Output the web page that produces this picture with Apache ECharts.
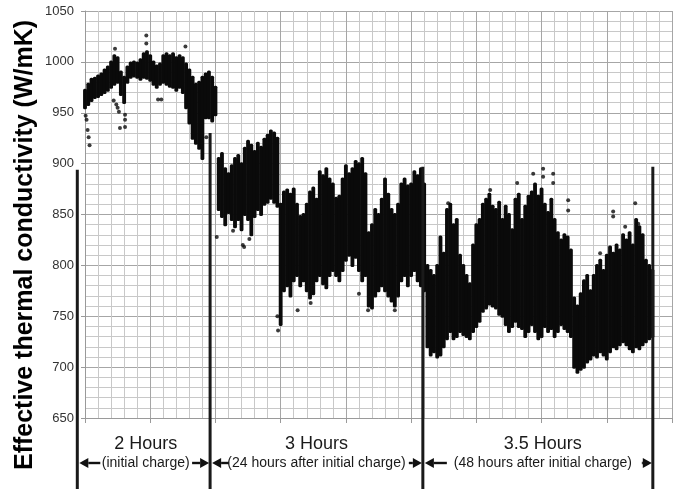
<!DOCTYPE html>
<html>
<head>
<meta charset="utf-8">
<script src="https://cdn.jsdelivr.net/npm/echarts@6/dist/echarts.min.js"></script>
<style>
html,body{margin:0;padding:0;background:#fff;}
#chart{width:681px;height:489px;}
</style>
</head>
<body>
<div id="chart"></div>
<script>
// Time axis: bins of 0.25 time units (grid has 45 minor columns)
const binStart = 0;
const binStep = 0.25;
// Upper edge of the dense point cloud for each bin
const hiVals = [
 972,978,983,984,986,988,992,995,1000,1006,1004,
 990,985,995,999,1000,999,1002,1008,1010,1006,
 1000,996,998,1006,1008,1006,1008,1004,1006,1004,
 998,992,985,978,980,985,988,990,985,975,
 905,910,895,890,898,905,908,900,915,922,
 918,912,920,916,924,928,932,930,925,860,
 872,874,870,875,860,848,850,860,872,876,
 865,892,888,895,885,880,866,868,885,898,
 890,895,902,900,905,890,832,840,855,850,
 865,885,870,855,850,860,880,885,878,880,
 892,888,895,880,
 800,795,790,800,828,812,
 855,860,840,845,810,800,790,782,820,840,
 845,860,865,870,858,855,862,845,858,850,
 835,865,870,845,858,868,872,880,868,875,
 860,852,865,845,832,825,830,828,815,768,
 760,772,785,790,775,790,800,805,795,810,
 818,812,820,815,830,825,832,820,845,838,
 830,805,800,795
];
// Lower edge of the dense point cloud for each bin
const loVals = [
 955,958,962,965,966,968,970,972,975,978,980,
 968,960,980,985,986,985,983,985,984,982,
 978,975,978,980,978,976,975,972,975,970,
 955,940,925,920,915,905,945,945,942,948,
 855,848,840,852,845,838,845,835,850,845,
 830,848,855,850,860,862,866,862,858,742,
 775,780,770,785,790,780,785,775,768,772,
 785,790,782,778,790,795,790,785,795,805,
 810,800,808,795,785,790,760,758,770,775,
 780,775,770,765,760,770,785,790,780,790,
 795,785,780,775,
 720,712,715,710,712,720,
 728,735,728,730,735,732,730,728,735,740,
 745,755,758,762,760,758,752,750,742,735,
 740,745,740,738,730,735,742,735,728,730,
 740,735,738,730,735,742,738,735,730,700,
 695,698,700,705,708,712,710,715,712,708,
 715,720,718,722,725,722,718,715,720,718,
 722,725,728,730
];
// Isolated points outside the dense cloud
const outX = [0.05,0.12,0.2,0.28,0.35,2.2,2.4,2.5,2.6,2.68,3.07,3.07,3.07,2.3,4.7,4.7,5.6,5.85,7.7,9.3,
  10.1,11.35,12.1,12.2,12.6,14.75,14.8,16.3,17.3,21.0,21.7,23.75,
  34.36,35.12,35.12,35.89,35.89,37.04,37.04,33.13,27.84,31.06,40.49,40.49,42.18,42.41,39.49,41.41];
const outY = [947,943,933,926,918,962,958,955,951,935,936,943,948,1013,1026,1018,963,963,1015,926,
  828,834,820,818,826,750,736,756,763,772,756,756,
  890,895,887,890,881,864,854,881,861,874,853,848,861,841,812,838];
// Y axis ticks
const yTicks = [650,700,750,800,850,900,950,1000,1050];
// Phase boundary lines (time units) and their top values
const boundX = [-0.59, 9.59, 25.9, 43.53];
const boundTop = [894, 930, 897, 897];
// Phase labels
const phaseTitles = ['2 Hours','3 Hours','3.5 Hours'];
const phaseNotes = ['(initial charge)','(24 hours after initial charge)','(48 hours after initial charge)'];
const yTitle = 'Effective thermal conductivity (W/mK)';

const bins = hiVals.map((h,i)=>[binStart + i*binStep, loVals[i], h]);
const outliers = outX.map((x,i)=>[x, outY[i]]);

const chart = echarts.init(document.getElementById('chart'), null, {renderer:'canvas'});
const font = 'Arial, "Liberation Sans", sans-serif';
chart.setOption({
  animation:false,
  backgroundColor:'#fff',
  grid:{left:85,right:9,top:11,bottom:71,containLabel:false},
  xAxis:{
    type:'value',min:0,max:45,interval:5,
    axisLabel:{show:false},
    axisLine:{show:true,lineStyle:{color:'#9a9a9a',width:1}},
    axisTick:{show:true,length:5,lineStyle:{color:'#9a9a9a'}},
    splitLine:{show:true,lineStyle:{color:'#a6a6a6',width:1}},
    minorTick:{show:false,splitNumber:5},
    minorSplitLine:{show:true,lineStyle:{color:'#c8c8c8',width:1}}
  },
  yAxis:{
    type:'value',min:yTicks[0],max:yTicks[yTicks.length-1],interval:50,
    axisLabel:{color:'#333',fontSize:13,fontFamily:font,margin:11,formatter:function(v){return String(v);}},
    axisLine:{show:true,lineStyle:{color:'#9a9a9a',width:1}},
    axisTick:{show:true,length:4,lineStyle:{color:'#9a9a9a'}},
    splitLine:{show:true,lineStyle:{color:'#a6a6a6',width:1}},
    minorTick:{show:false,splitNumber:5},
    minorSplitLine:{show:true,lineStyle:{color:'#c8c8c8',width:1}}
  },
  series:[
    {
      type:'custom',
      data:bins,
      encode:{x:0,y:[1,2]},
      renderItem:function(params, api){
        const x = api.value(0), lo = api.value(1), hi = api.value(2);
        const top = api.coord([x, hi]);
        const bot = api.coord([x, lo]);
        const w = api.size([binStep,0])[0] + 0.6;
        return {type:'rect',
          shape:{x:top[0]-w/2, y:top[1]-1.5, width:w, height:bot[1]-top[1]+3, r:1.5},
          style:{fill:'#0a0a0a'}};
      },
      z:3
    },
    {
      type:'scatter',
      data:outliers,
      symbol:'circle',
      symbolSize:4,
      itemStyle:{color:'#0a0a0a'},
      z:3
    }
  ]
});

function drawAnnotations(){
  const px = boundX.map(x=>chart.convertToPixel({gridIndex:0},[x, 800])[0]);
  const tops = boundTop.map((v,i)=>chart.convertToPixel({gridIndex:0},[boundX[i], v])[1]);
  const g = [];
  const bottom = 489;
  px.forEach((x,i)=>{
    g.push({type:'line',shape:{x1:x,y1:tops[i],x2:x,y2:bottom},style:{stroke:'#1a1a1a',lineWidth:3},z:10});
  });
  const ay = 463;
  function arrow(tip, tail){
    const dir = tip > tail ? 1 : -1;
    const hb = tip - dir*9;
    if (Math.abs(tail - hb) > 0.5) {
      g.push({type:'line',shape:{x1:tail,y1:ay,x2:hb,y2:ay},style:{stroke:'#111',lineWidth:2.4},z:10});
    }
    g.push({type:'polygon',shape:{points:[[tip,ay],[hb,ay-5],[hb,ay+5]]},style:{fill:'#111'},z:10});
  }
  arrow(px[0]+2, px[0]+23);
  arrow(px[1]-1, px[1]-18);
  arrow(px[1]+2, px[1]+19);
  arrow(px[2]-1, px[2]-14);
  arrow(px[2]+2, px[2]+24);
  arrow(px[3]-1, px[3]-11);
  const offs = [2, 0, 5];
  for (let i=0;i<3;i++){
    const cx = (px[i]+px[i+1])/2 + offs[i];
    g.push({type:'text',x:cx,y:444,style:{text:phaseTitles[i],fill:'#1a1a1a',font:'18px '+font,textAlign:'center',textVerticalAlign:'middle'},z:10});
    g.push({type:'text',x:cx,y:463,style:{text:phaseNotes[i],fill:'#1a1a1a',font:'14px '+font,textAlign:'center',textVerticalAlign:'middle'},z:10});
  }
  g.push({type:'text',x:25,y:245,rotation:Math.PI/2,
    style:{text:yTitle,fill:'#000',font:'bold 25px '+font,textAlign:'center',textVerticalAlign:'middle'},z:10});
  chart.setOption({graphic:g});
}
drawAnnotations();
</script>
</body>
</html>
